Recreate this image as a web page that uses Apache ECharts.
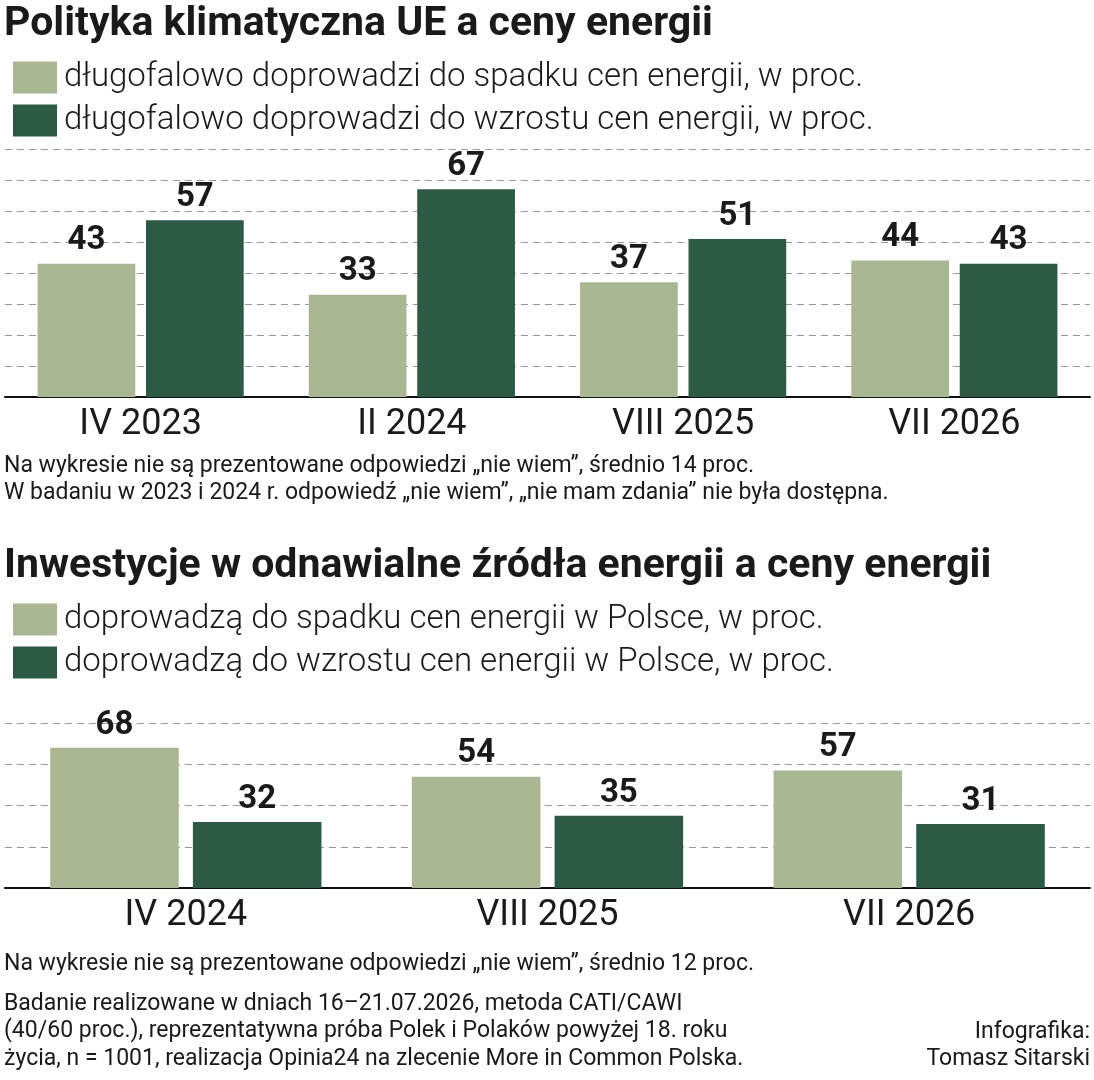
<!DOCTYPE html>
<html>
<head>
<meta charset="utf-8">
<script src="https://cdn.jsdelivr.net/npm/echarts@6/dist/echarts.min.js"></script>
<style>html,body{margin:0;padding:0;background:#fff}#c{width:1094px;height:1080px}</style>
</head>
<body>
<div id="c"></div>
<script>
var cats1 = ['IV 2023', 'II 2024', 'VIII 2025', 'VII 2026'];
var down1 = [43, 33, 37, 44];
var up1 = [57, 67, 51, 43];
var cats2 = ['IV 2024', 'VIII 2025', 'VII 2026'];
var down2 = [68, 54, 57];
var up2 = [32, 35, 31];
var names1 = ['długofalowo doprowadzi do spadku cen energii, w proc.', 'długofalowo doprowadzi do wzrostu cen energii, w proc.'];
var names2 = ['doprowadzą do spadku cen energii w Polsce, w proc.', 'doprowadzą do wzrostu cen energii w Polsce, w proc.'];

var LIGHT = '#a9b792', DARK = '#2c5a44';
var F = 'Roboto, "Noto Sans", sans-serif';

var chart = echarts.init(document.getElementById('c'));
function xAx(idx, data) {
	return {
		type: 'category', gridIndex: idx, data: data,
		axisLine: { lineStyle: { color: '#111', width: 2 } },
		axisTick: { show: false },
		axisLabel: { fontSize: 36, color: '#1a1a1a', fontFamily: F, margin: 10 }
	};
}
function yAx(idx, interval) {
	return {
		type: 'value', gridIndex: idx, min: 0, max: 80, interval: interval,
		axisLabel: { show: false }, axisLine: { show: false }, axisTick: { show: false },
		splitLine: { lineStyle: { color: '#999', type: [7, 5], width: 1 } }
	};
}
function bar(name, idx, data, color, gap, catGap) {
	return {
		name: name, type: 'bar', xAxisIndex: idx, yAxisIndex: idx, data: data,
		itemStyle: { color: color }, barGap: gap, barCategoryGap: catGap,
		label: { show: true, position: 'top', distance: 6, fontSize: 33, fontWeight: 'bold', color: '#1a1a1a', fontFamily: F }
	};
}
function legend(top, data) {
	return {
		top: top, left: 8, orient: 'vertical', itemWidth: 44, itemHeight: 32, itemGap: 10,
		icon: 'rect', data: data, selectedMode: false,
		textStyle: { fontSize: 33, fontWeight: 300, color: '#1a1a1a', fontFamily: F, padding: [0, 0, 0, 2] }
	};
}
function txt(x, y, s, size, weight, align) {
	return { type: 'text', left: align === 'right' ? null : x, right: align === 'right' ? x : null, top: y,
		style: { text: s, fontSize: size, fontWeight: weight, fill: '#1a1a1a', fontFamily: F, lineHeight: size * 1.2, textAlign: align || 'left' } };
}

chart.setOption({
	animation: false,
	color: [LIGHT, DARK, LIGHT, DARK],
	grid: [
		{ left: 5, right: 4, top: 149, bottom: 683 },
		{ left: 5, right: 4, top: 723, bottom: 192 }
	],
	legend: [legend(56, names1), legend(598, names2)],
	xAxis: [xAx(0, cats1), xAx(1, cats2)],
	yAxis: [yAx(0, 10), yAx(1, 20)],
	series: [
		bar(names1[0], 0, down1, LIGHT, '11%', '24%'),
		bar(names1[1], 0, up1, DARK, '11%', '24%'),
		bar(names2[0], 1, down2, LIGHT, '11%', '25%'),
		bar(names2[1], 1, up2, DARK, '11%', '25%')
	],
	graphic: [
		txt(4, 0, 'Polityka klimatyczna UE a ceny energii', 41, 'bold'),
		txt(4, 452, 'Na wykresie nie są prezentowane odpowiedzi „nie wiem”, średnio 14 proc.\nW badaniu w 2023 i 2024 r. odpowiedź „nie wiem”, „nie mam zdania” nie była dostępna.', 23, 'normal'),
		txt(4, 542, 'Inwestycje w odnawialne źródła energii a ceny energii', 41, 'bold'),
		txt(4, 950, 'Na wykresie nie są prezentowane odpowiedzi „nie wiem”, średnio 12 proc.', 23, 'normal'),
		txt(4, 990, 'Badanie realizowane w dniach 16–21.07.2026, metoda CATI/CAWI\n(40/60 proc.), reprezentatywna próba Polek i Polaków powyżej 18. roku\nżycia, n = 1001, realizacja Opinia24 na zlecenie More in Common Polska.', 23, 'normal'),
		txt(4, 1018, 'Infografika:\nTomasz Sitarski', 23, 'normal', 'right')
	]
});
</script>
</body>
</html>
